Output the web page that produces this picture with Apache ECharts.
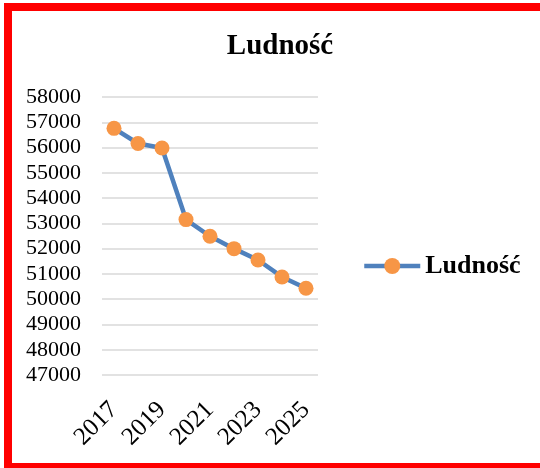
<!DOCTYPE html>
<html>
<head>
<meta charset="utf-8">
<script src="https://cdn.jsdelivr.net/npm/echarts@6/dist/echarts.min.js"></script>
<style>
  html, body { margin: 0; padding: 0; background: #fff; overflow: hidden; }
  #frame {
    position: absolute; left: 4px; top: 3px;
    width: 600px; height: 452px;
    border: 8px solid #ff0000;
  }
  #chart { position: absolute; left: 0; top: 0; width: 540px; height: 468px; }
</style>
</head>
<body>
<div id="frame"></div>
<div id="chart"></div>
<script>
const years = ['2017', '2018', '2019', '2020', '2021', '2022', '2023', '2024', '2025'];
const population = [56760, 56160, 55980, 53150, 52490, 52000, 51550, 50880, 50430];
const yMin = 47000;
const yMax = 58000;
const yStep = 1000;

const serif = "'Liberation Serif', 'DejaVu Serif', serif";

const chart = echarts.init(document.getElementById('chart'));
chart.setOption({
  animation: false,
  textStyle: { fontFamily: serif, color: '#000' },
  title: {
    text: 'Ludność',
    left: 275,
    textAlign: 'center',
    top: 27,
    textStyle: { fontFamily: serif, fontSize: 29, fontWeight: 'bold', color: '#000' }
  },
  legend: {
    data: [{ name: 'Ludność', itemStyle: { color: '#f79646' } }],
    left: 357,
    top: 248,
    itemWidth: 56,
    itemHeight: 20,
    itemGap: 4,
    lineStyle: { width: 4.5 },
    textStyle: { fontFamily: serif, fontSize: 26, fontWeight: 'bold', color: '#000' }
  },
  grid: { left: 102, right: 222, top: 97, bottom: 93 },
  xAxis: {
    type: 'category',
    data: years,
    boundaryGap: true,
    axisLine: { show: false },
    axisTick: { show: false },
    axisLabel: {
      interval: 1,
      rotate: 45,
      margin: 31,
      fontFamily: serif,
      fontSize: 25,
      color: '#000'
    }
  },
  yAxis: {
    type: 'value',
    min: yMin,
    max: yMax,
    interval: yStep,
    axisLine: { show: false },
    axisTick: { show: false },
    axisLabel: {
      margin: 21,
      fontFamily: serif,
      fontSize: 22,
      color: '#000',
      formatter: (v) => String(v)
    },
    splitLine: { lineStyle: { color: '#d9d9d9', width: 1.5 } }
  },
  series: [{
    name: 'Ludność',
    type: 'line',
    data: population,
    symbol: 'circle',
    symbolSize: 15,
    lineStyle: { color: '#4f81bd', width: 4.5 },
    itemStyle: { color: '#f79646', borderWidth: 0 }
  }]
});
</script>
</body>
</html>
